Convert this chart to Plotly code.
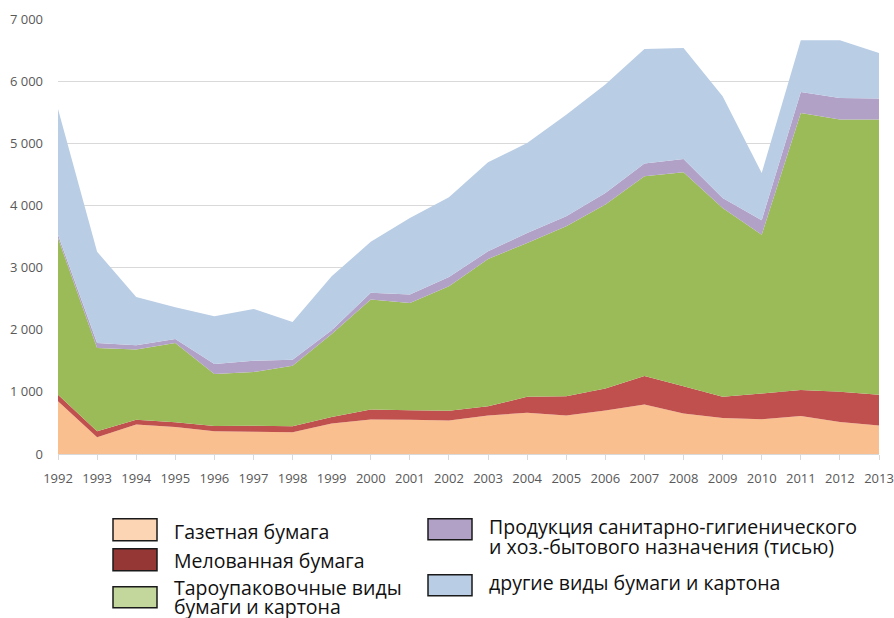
import plotly.graph_objects as go

years = list(range(1992, 2014))
gazeta = [850, 270, 475, 435, 365, 360, 350, 490, 555, 550, 540, 620, 665, 620, 700, 795, 650, 580, 560, 610, 515, 460]
melov = [105, 95, 75, 75, 85, 95, 95, 105, 160, 155, 155, 150, 255, 310, 355, 460, 440, 340, 415, 420, 485, 495]
tara = [2521, 1342, 1130, 1278, 838, 865, 977, 1335, 1770, 1726, 2005, 2368, 2476, 2734, 2958, 3214, 3443, 3039, 2555, 4458, 4381, 4426]
tissue = [54, 80, 69, 64, 161, 182, 96, 60, 108, 134, 150, 124, 161, 161, 187, 204, 215, 161, 231, 338, 349, 338]
other = [2020, 1468, 779, 509, 767, 833, 608, 870, 821, 1233, 1280, 1432, 1448, 1636, 1744, 1845, 1786, 1636, 762, 832, 928, 735]

names = ["Газетная бумага", "Мелованная бумага", "Тароупаковочные виды<br>бумаги и картона",
         "Продукция санитарно-гигиенического<br>и хоз.-бытового назначения (тисью)",
         "другие виды бумаги и картона"]
area_colors = ["#F9BF8F", "#C0504D", "#9BBB59", "#B2A1C7", "#B9CDE5"]
legend_colors = ["#FCD5B5", "#953735", "#C3D69B", "#B2A1C7", "#B9CDE5"]
y_ticks = [0, 1000, 2000, 3000, 4000, 5000, 6000, 7000]

series = [gazeta, melov, tara, tissue, other]

fig = go.Figure()
for vals, nm, col in zip(series, names, area_colors):
    fig.add_trace(go.Scatter(x=years, y=vals, name=nm.replace("<br>", " "), stackgroup="one",
                             mode="none", fillcolor=col, showlegend=False))

W, H = 894, 618
L, R, T, B = 58, 879, 19.3, 454.3

def px(x):
    return (x - L) / (R - L)

def py(y):
    return (B - y) / (B - T)

# custom legend: box (x0, y0, y1) and text line centers
boxes = [
    (113, 519, 541),
    (113, 549, 571),
    (113, 587, 608),
    (428, 519, 540),
    (428, 575, 596),
]
text_x = [172, 172, 172, 487, 487]
text_y = [[532], [560.5], [588, 606.5], [527, 546.5], [582.5]]

shapes = []
annotations = []
for (bx, by0, by1), col, nm, tx, tys in zip(boxes, legend_colors, names, text_x, text_y):
    shapes.append(dict(type="rect", xref="paper", yref="paper",
                       x0=px(bx), x1=px(bx + 44), y0=py(by1), y1=py(by0),
                       fillcolor=col, line=dict(color="#1a1a1a", width=1.5)))
    for line, ty in zip(nm.split("<br>"), tys):
        annotations.append(dict(xref="paper", yref="paper", x=px(tx), y=py(ty),
                                text=line, showarrow=False, xanchor="left", yanchor="middle",
                                align="left", font=dict(size=19.5, color="#111111", family="Open Sans")))

fig.update_layout(
    width=W, height=H,
    margin=dict(l=L, r=W - R, t=T, b=H - B, pad=0),
    paper_bgcolor="white", plot_bgcolor="white",
    separators=", ",
    font=dict(family="Open Sans", color="#595959", size=12),
    shapes=shapes, annotations=annotations,
    xaxis=dict(range=[1992, 2013], tickmode="array", tickvals=years, showgrid=False,
               showline=True, linecolor="#d9d9d9", linewidth=1, automargin=False,
               ticks="outside", ticklen=5, tickcolor="#d9d9d9", ticklabelstandoff=7,
               tickfont=dict(size=13, color="#595959"), zeroline=False),
    yaxis=dict(range=[0, 7000], tickmode="array", tickvals=y_ticks, tickformat=",d",
               showgrid=True, gridcolor="#d9d9d9", gridwidth=1, zeroline=False, automargin=False,
               ticklabelstandoff=14, tickfont=dict(size=13, color="#595959")),
)

fig.write_html("out.html", config={"displayModeBar": False},
               post_script="document.body.style.margin='0';document.body.style.overflow='hidden';")
